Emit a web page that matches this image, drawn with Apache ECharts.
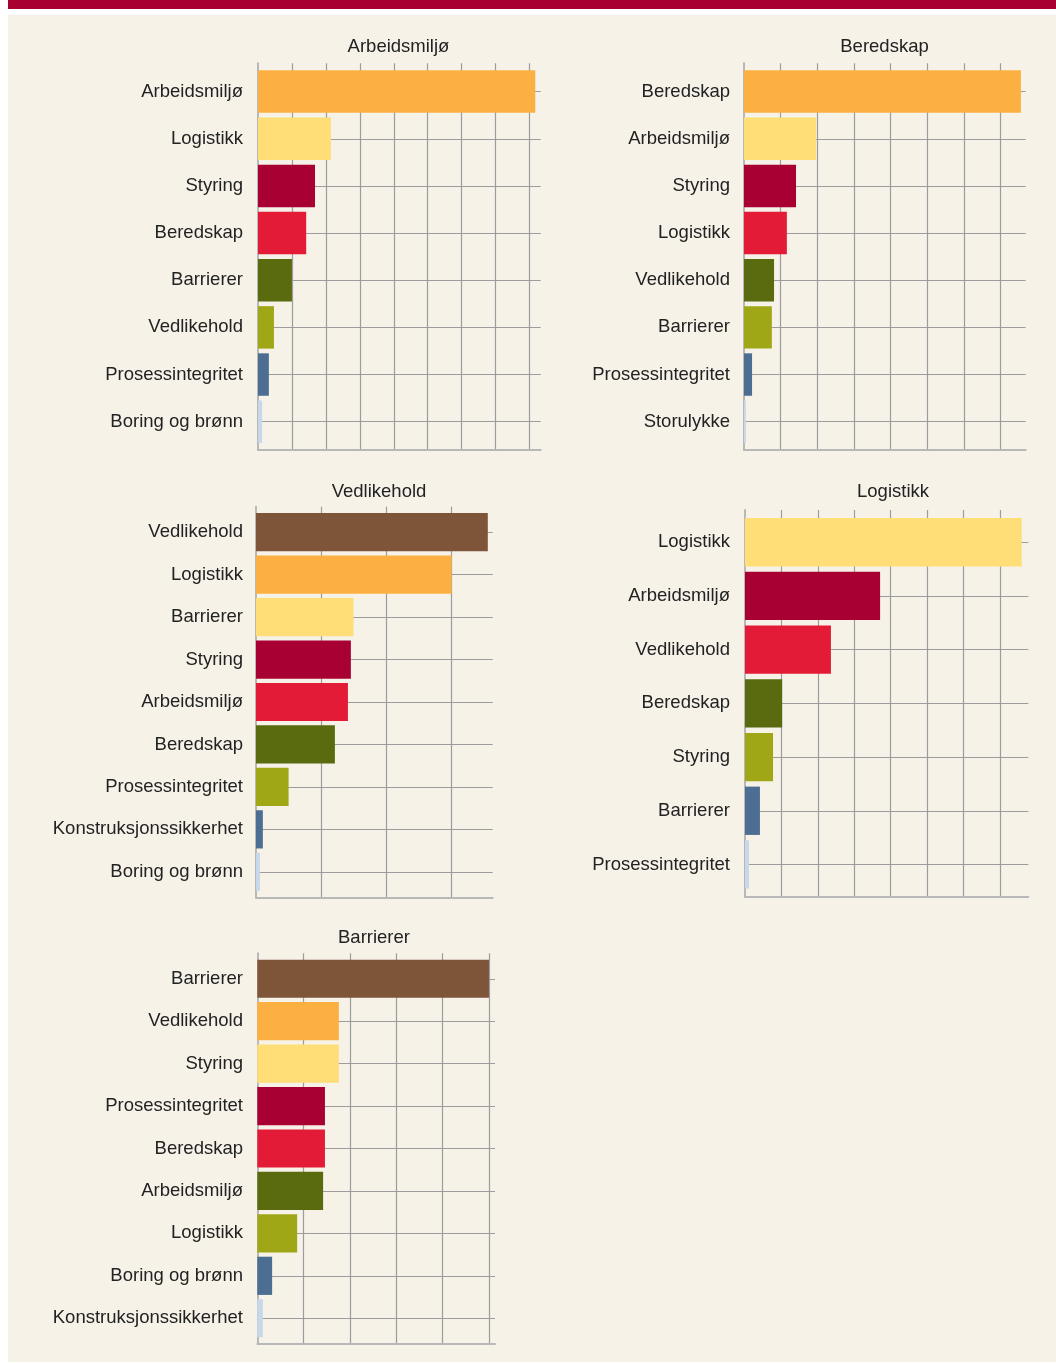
<!DOCTYPE html>
<html>
<head>
<meta charset="utf-8">
<script src="https://cdn.jsdelivr.net/npm/echarts@6/dist/echarts.min.js"></script>
<style>
  html, body { margin: 0; padding: 0; background: #fff; }
  #chart { width: 1056px; height: 1363px; }
</style>
</head>
<body>
<div id="chart"></div>
<script>
// colours by rank, the last one always goes to the smallest bar
const palette = ['#7F5539', '#FDB042', '#FFDE77', '#A80032', '#E41B37', '#596B0E', '#A0A716', '#4B6E92', '#C6D8E9'];

const arbeidsmiljoCats = ['Arbeidsmiljø', 'Logistikk', 'Styring', 'Beredskap', 'Barrierer', 'Vedlikehold', 'Prosessintegritet', 'Boring og brønn'];
const arbeidsmiljoVals = [81.7, 21.5, 16.8, 14.2, 10.0, 4.7, 3.2, 1.2];

const beredskapCats = ['Beredskap', 'Arbeidsmiljø', 'Styring', 'Logistikk', 'Vedlikehold', 'Barrierer', 'Prosessintegritet', 'Storulykke'];
const beredskapVals = [75.6, 19.7, 14.2, 11.7, 8.2, 7.6, 2.2, 0.5];

const vedlikeholdCats = ['Vedlikehold', 'Logistikk', 'Barrierer', 'Styring', 'Arbeidsmiljø', 'Beredskap', 'Prosessintegritet', 'Konstruksjonssikkerhet', 'Boring og brønn'];
const vedlikeholdVals = [71.1, 60.0, 29.9, 29.1, 28.2, 24.2, 10.0, 2.1, 1.2];

const logistikkCats = ['Logistikk', 'Arbeidsmiljø', 'Vedlikehold', 'Beredskap', 'Styring', 'Barrierer', 'Prosessintegritet'];
const logistikkVals = [76.0, 37.1, 23.6, 10.2, 7.7, 4.1, 1.1];

const barriererCats = ['Barrierer', 'Vedlikehold', 'Styring', 'Prosessintegritet', 'Beredskap', 'Arbeidsmiljø', 'Logistikk', 'Boring og brønn', 'Konstruksjonssikkerhet'];
const barriererVals = [50.0, 17.6, 17.6, 14.6, 14.6, 14.2, 8.6, 3.2, 1.2];

const panelTitles = ['Arbeidsmiljø', 'Beredskap', 'Vedlikehold', 'Logistikk', 'Barrierer'];
const axisMax = [83.3, 76.9, 72.6, 77.8, 51.3];
const axisStep = [10, 10, 20, 10, 10];

const panelCats = [arbeidsmiljoCats, beredskapCats, vedlikeholdCats, logistikkCats, barriererCats];
const panelVals = [arbeidsmiljoVals, beredskapVals, vedlikeholdVals, logistikkVals, barriererVals];

// plot frames in px: left, right, top, bottom, label right edge, title centre
const frames = [
  { l: 258, r: 540.7, t: 63.3, b: 450, lx: 243, tx: 398.5, ty: 47 },
  { l: 744, r: 1025.7, t: 63.3, b: 450, lx: 730, tx: 884.5, ty: 47 },
  { l: 256, r: 492.7, t: 506.7, b: 897.3, lx: 243, tx: 379, ty: 492 },
  { l: 745, r: 1028.3, t: 510, b: 896.7, lx: 730, tx: 893, ty: 492 },
  { l: 257.3, r: 495, t: 953.3, b: 1343.7, lx: 243, tx: 374, ty: 938 }
];

const font = '"Liberation Sans", Arial, Helvetica, sans-serif';
const gridColor = '#9c9c9c';
const axisColor = '#b8b8b8';

const chart = echarts.init(document.getElementById('chart'));

const grids = [], xAxes = [], yAxes = [], series = [];
const graphics = [
  { type: 'rect', z: -10, shape: { x: 8, y: 0, width: 1048, height: 9 }, style: { fill: '#A80030' } },
  { type: 'rect', z: -10, shape: { x: 8, y: 15, width: 1048, height: 1347 }, style: { fill: '#F6F2E8' } }
];

panelCats.forEach((cats, k) => {
  const f = frames[k];
  const n = cats.length;
  // discrete axis padded by 0.6 of a band at each end
  const band = (f.b - f.t) / (n - 1 + 1.2);
  const fi = 2 * k, bi = 2 * k + 1;

  grids.push({ left: f.l, top: f.t, width: f.r - f.l, height: f.b - f.t });
  grids.push({ left: f.l, top: f.t + 0.6 * band, width: f.r - f.l, height: (n - 1) * band });

  // frame: vertical grid lines + axis lines
  xAxes.push({
    type: 'value', gridIndex: fi, min: 0, max: axisMax[k], interval: axisStep[k],
    axisLine: { show: true, onZero: false, lineStyle: { color: axisColor, width: 2 } },
    axisTick: { show: false }, axisLabel: { show: false },
    splitLine: { show: true, showMinLine: false, showMaxLine: false, lineStyle: { color: gridColor, width: 1.2 } }
  });
  yAxes.push({
    type: 'value', gridIndex: fi, min: 0, max: 1,
    axisLine: { show: true, onZero: false, lineStyle: { color: axisColor, width: 2 } },
    axisTick: { show: false }, axisLabel: { show: false }, splitLine: { show: false }
  });

  // bars
  xAxes.push({ type: 'value', gridIndex: bi, min: 0, max: axisMax[k], show: false });
  yAxes.push({
    type: 'category', gridIndex: bi, data: cats, inverse: true, boundaryGap: false,
    axisLine: { show: false }, axisTick: { show: false },
    axisLabel: { interval: 0, margin: f.l - f.lx, fontSize: 18.5, color: '#222', fontFamily: font },
    splitLine: { show: true, interval: 0, lineStyle: { color: gridColor, width: 1.2 } }
  });
  series.push({
    type: 'bar', xAxisIndex: bi, yAxisIndex: bi, barWidth: 0.9 * band, silent: true,
    data: panelVals[k].map((v, i) => ({ value: v, itemStyle: { color: palette[9 - n + i] } }))
  });

  graphics.push({
    type: 'text', x: f.tx, y: f.ty,
    style: { text: panelTitles[k], fill: '#222', font: '18.5px ' + font, align: 'center', verticalAlign: 'middle' }
  });
});

chart.setOption({
  backgroundColor: '#fff',
  animation: false,
  grid: grids,
  xAxis: xAxes,
  yAxis: yAxes,
  series: series,
  graphic: graphics
});
</script>
</body>
</html>
